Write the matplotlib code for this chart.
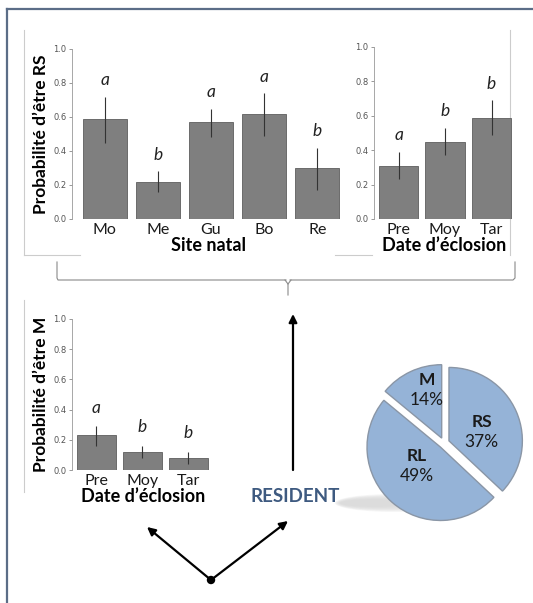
import matplotlib
matplotlib.use("Agg")
import matplotlib.pyplot as plt
from matplotlib.patches import Ellipse, Circle
import numpy as np

# ---- data ----
sites = ["Mo", "Me", "Gu", "Bo", "Re"]
site_rs = [0.59, 0.22, 0.57, 0.62, 0.30]
site_lo = [0.45, 0.16, 0.48, 0.49, 0.17]
site_hi = [0.72, 0.28, 0.65, 0.74, 0.42]
site_letters = ["a", "b", "a", "a", "b"]

dates = ["Pre", "Moy", "Tar"]
date_rs = [0.31, 0.45, 0.59]
date_rs_lo = [0.23, 0.37, 0.49]
date_rs_hi = [0.39, 0.53, 0.69]
date_rs_letters = ["a", "b", "b"]

date_m = [0.23, 0.12, 0.08]
date_m_lo = [0.16, 0.08, 0.04]
date_m_hi = [0.29, 0.16, 0.12]
date_m_letters = ["a", "b", "b"]

pie_labels = ["RS", "RL", "M"]
pie_pct = [37, 49, 14]

W, H = 533, 603
BAR = "#7f7f7f"
FONT = "Lato"


def px_axes(fig, x0, x1, y_top, y_bot):
    return fig.add_axes([x0 / W, 1 - y_bot / H, (x1 - x0) / W, (y_bot - y_top) / H])


def bar_panel(ax, labels, vals, lo, hi, letters, xlim, width, ylabel=None, letter_gap=0.1):
    x = np.arange(len(labels))
    ax.bar(x, vals, width=width, color=BAR, edgecolor="#5e5e5e", linewidth=0.6, zorder=2)
    ax.vlines(x, lo, hi, color="#333333", linewidth=0.8, zorder=3)
    for xi, h, let in zip(x, hi, letters):
        ax.text(xi, h + letter_gap, let, ha="center", va="bottom", style="italic",
                fontsize=12.5, family=FONT, color="#222222")
    ax.set_xlim(*xlim)
    ax.set_ylim(0, 1.0)
    ax.set_yticks([0, 0.2, 0.4, 0.6, 0.8, 1.0])
    ax.set_yticklabels(["0.0", "0.2", "0.4", "0.6", "0.8", "1.0"])
    ax.set_xticks(x)
    ax.set_xticklabels(labels, fontsize=11.5, family=FONT, color="#1a1a1a")
    ax.tick_params(axis="x", length=0, pad=3)
    ax.tick_params(axis="y", length=2.5, width=0.6, color="#888888", labelsize=6,
                   labelcolor="#555555", pad=1.5)
    for s in ["top", "right", "bottom"]:
        ax.spines[s].set_visible(False)
    ax.spines["left"].set_color("#999999")
    ax.spines["left"].set_linewidth(0.6)
    ax.patch.set_alpha(0)
    if ylabel:
        ax.set_ylabel(ylabel, fontsize=12.5, fontweight="bold", family=FONT, labelpad=3)


fig = plt.figure(figsize=(W / 100, H / 100), dpi=100)

# overlay in pixel coordinates for frame, brace and arrows
ov = fig.add_axes([0, 0, 1, 1], zorder=0)
ov.set_xlim(0, W)
ov.set_ylim(H, 0)
ov.axis("off")

# outer frame
ov.plot([7, 7], [9, H], color="#5b6d87", lw=1.6)
ov.plot([7, W], [9, 9], color="#5b6d87", lw=1.6)

# light panel frames
g = "#cccccc"
ov.plot([24, 24], [30, 255], color=g, lw=0.8)
ov.plot([24, 80], [255, 255], color=g, lw=0.8)
ov.plot([335, 372], [255, 255], color=g, lw=0.8)
ov.plot([510, 510], [30, 255], color=g, lw=0.8)
ov.plot([24, 24], [300, 492], color=g, lw=0.8)

# brace
b = "#8a8a8a"
ov.plot([57, 57, 58, 286], [262, 278, 280, 280], color=b, lw=0.8)
ov.plot([290, 513, 515, 515], [280, 280, 278, 262], color=b, lw=0.8)
ov.plot([285, 288, 288], [280, 284, 295], color=b, lw=0.8)
ov.plot([291, 288], [280, 284], color=b, lw=0.8)

# arrows
arr = dict(arrowstyle="-|>", color="black", lw=1.6, mutation_scale=12, shrinkA=0, shrinkB=0)
ov.annotate("", xy=(293, 314), xytext=(293, 470), arrowprops=arr)
ov.annotate("", xy=(147, 527), xytext=(211, 580), arrowprops=arr)
ov.annotate("", xy=(288, 521), xytext=(211, 580), arrowprops=arr)
ov.add_patch(Circle((211, 580), 3.5, color="black", zorder=5))

ov.text(295, 497, "RESIDENT", ha="center", va="center", fontsize=13.5, fontweight="bold",
        family=FONT, color="#3e5a80")

# soft shadow under the pie
for i, a in enumerate(np.linspace(0.06, 0.02, 6)):
    ov.add_patch(Ellipse((395 - i * 4, 503), 120 - i * 10, 18 - i * 2, color="#666666",
                         alpha=a, lw=0))

# top-left: site natal
ax1 = px_axes(fig, 72, 345, 49, 219)
bar_panel(ax1, sites, site_rs, site_lo, site_hi, site_letters, (-0.613, 4.52), 0.83,
          ylabel="Probabilité d’être RS", letter_gap=0.05)
ax1.set_xlabel("Site natal", fontsize=13, fontweight="bold", family=FONT, labelpad=0)

# top-right: date d'eclosion (RS)
ax2 = px_axes(fig, 374, 515, 47, 219)
bar_panel(ax2, dates, date_rs, date_rs_lo, date_rs_hi, date_rs_letters, (-0.527, 2.505), 0.84,
          letter_gap=0.05)
ax2.set_xlabel("Date d’éclosion", fontsize=13, fontweight="bold", family=FONT, labelpad=0)

# bottom-left: date d'eclosion (M)
ax3 = px_axes(fig, 72, 215, 319, 470)
bar_panel(ax3, dates, date_m, date_m_lo, date_m_hi, date_m_letters, (-0.533, 2.58), 0.85,
          ylabel="Probabilité d’être M", letter_gap=0.07)
ax3.set_xlabel("Date d’éclosion", fontsize=13, fontweight="bold", family=FONT, labelpad=0)

# pie
cx, cy, half = 444, 443, 85
axp = fig.add_axes([(cx - half) / W, 1 - (cy + half) / H, 2 * half / W, 2 * half / H], zorder=2)
wedges, _ = axp.pie(pie_pct, startangle=90, counterclock=False, radius=0.95,
                    explode=[0.07, 0.07, 0.07],
                    colors=["#95b3d7"] * 3,
                    wedgeprops=dict(edgecolor="#8a96a6", linewidth=1.0))
axp.set_xlim(-1.1, 1.1)
axp.set_ylim(-1.1, 1.1)
axp.set_aspect("equal")
label_pos = [(0.49, 0.14), (-0.35, -0.30), (-0.22, 0.69)]
for (lx, ly), lab, p in zip(label_pos, pie_labels, pie_pct):
    axp.text(lx, ly + 0.13, lab, ha="center", va="center", fontsize=12.5, fontweight="bold",
             family=FONT, color="#1a1a1a")
    axp.text(lx, ly - 0.13, f"{p}%", ha="center", va="center", fontsize=12.5,
             family=FONT, color="#1a1a1a")

fig.savefig("out.png", dpi=100)
